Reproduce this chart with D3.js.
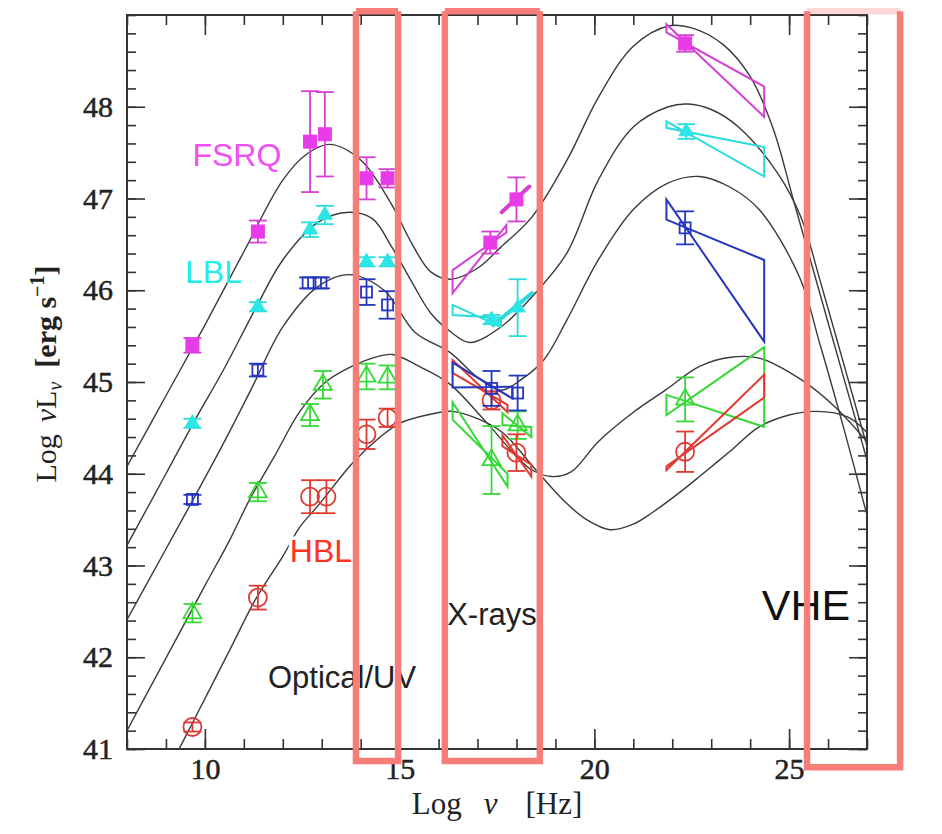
<!DOCTYPE html>
<html>
<head>
<meta charset="utf-8">
<script src="https://cdn.jsdelivr.net/npm/d3@7"></script>
<style>
  html, body { margin: 0; padding: 0; background: #fff; }
  svg { display: block; }
</style>
</head>
<body>
<div id="chart"></div>
<script>
// Model SED curves as [log nu, log nuLnu]
const curveFSRQ = [[8,44.08],[9,44.85],[10,45.62],[11,46.42],[12,47.2],[12.6,47.48],[13.2,47.59],[14,47.42],[14.8,46.93],[15.3,46.52],[15.8,46.2],[16.3,46.12],[17,46.24],[17.6,46.47],[18.4,46.8],[19.3,47.42],[20.1,48.1],[21,48.66],[21.9,48.88],[22.5,48.86],[23.3,48.68],[24,48.33],[24.6,47.75],[25.1,47.0],[25.6,46.25],[26.3,45.2],[27,44.15]];
const curveLBL = [[8,43.22],[9,44.0],[9.7,44.55],[10.5,45.15],[11.3,45.8],[12,46.33],[12.9,46.74],[13.7,46.85],[14.3,46.78],[14.8,46.47],[15.3,46.1],[15.8,45.75],[16.3,45.55],[16.8,45.43],[17.6,45.6],[18.4,45.93],[19.3,46.41],[20.1,47.2],[21,47.78],[21.9,48.0],[22.4,48.03],[23,47.97],[23.7,47.78],[24.7,47.28],[25.3,46.8],[25.8,46.1],[26.4,45.2],[27,44.3]];
const curveMid = [[8,42.41],[9,43.18],[9.7,43.72],[10.5,44.35],[11.2,44.93],[12,45.6],[12.9,46.04],[13.7,46.17],[14.6,46.0],[15.4,45.54],[16.3,45.32],[17,45.05],[17.6,44.91],[18.1,45.02],[18.7,45.24],[19.3,45.68],[20.1,46.33],[21,46.88],[21.9,47.17],[22.7,47.24],[23.5,47.12],[24.23,46.88],[25.26,46.15],[25.8,45.4],[26.4,44.5],[27,43.55]];
const curveGreen = [[8,41.2],[9,41.99],[10,42.78],[10.64,43.28],[11.15,43.72],[11.8,44.2],[12.44,44.68],[13.1,45.0],[13.72,45.16],[14.3,45.26],[14.82,45.3],[15.5,45.17],[16.28,44.98],[17.23,44.56],[18.33,44.06],[18.9,43.97],[19.4,44.02],[20.1,44.35],[21,44.67],[21.85,44.92],[22.7,45.17],[23.5,45.27],[24.23,45.26],[25.33,45.02],[26.2,44.72],[27,44.35]];
const curveHBL = [[9,40.72],[9.7,41.3],[10.64,42.08],[11.3,42.63],[12,43.1],[12.44,43.42],[12.9,43.65],[13.8,44.12],[14.5,44.4],[15,44.55],[15.7,44.64],[16.36,44.68],[17,44.6],[17.64,44.45],[18.5,44.04],[19.28,43.68],[19.8,43.5],[20.4,43.39],[21,43.45],[21.5,43.58],[22.2,43.8],[22.7,43.97],[23.5,44.25],[24.23,44.51],[25,44.64],[25.7,44.68],[26.5,44.62],[27,44.45]];

// Average data points per class: x, y and error
const fsrqX = [9.68, 11.36, 12.7, 13.08, 14.15, 14.69, 17.33, 18.0, 22.33];
const fsrqY = [45.4, 46.64, 47.62, 47.7, 47.22, 47.22, 46.52, 46.99, 48.69];
const fsrqErr = [0.08, 0.12, 0.55, 0.46, 0.23, 0.1, 0.12, 0.24, 0.09];

const lblX = [9.68, 11.36, 12.7, 13.08, 14.15, 14.69, 17.36, 18.03, 22.36];
const lblY = [44.55, 45.82, 46.66, 46.82, 46.31, 46.31, 45.68, 45.81, 47.73];
const lblErr = [0.05, 0.05, 0.08, 0.1, 0.05, 0.05, 0.05, 0.31, 0.08];

const midX = [9.68, 11.36, 12.65, 12.98, 14.15, 14.69, 17.36, 18.03, 22.33];
const midY = [43.72, 45.13, 46.08, 46.08, 45.98, 45.84, 44.93, 44.88, 46.68];
const midErr = [0.05, 0.07, 0.06, 0.06, 0.14, 0.15, 0.19, 0.19, 0.18];

const greenX = [9.68, 11.36, 12.7, 13.03, 14.15, 14.69, 17.36, 18.03, 22.33];
const greenY = [42.48, 43.8, 44.64, 44.97, 45.06, 45.05, 44.15, 44.53, 44.81];
const greenErr = [0.1, 0.1, 0.12, 0.15, 0.14, 0.13, 0.37, 0.15, 0.24];

const hblX = [9.68, 11.36, 12.7, 13.12, 14.15, 14.69, 17.36, 18.0, 22.33];
const hblY = [41.24, 42.65, 43.75, 43.75, 44.43, 44.61, 44.8, 44.23, 44.24];
const hblErr = [0.05, 0.13, 0.18, 0.18, 0.16, 0.1, 0.1, 0.2, 0.22];

// Bowties: [xLeft, xRight, yLeftTop, yLeftBottom, yRightTop, yRightBottom]
const fsrqTies = [[16.36, 17.74, 46.22, 45.97, 46.71, 46.63], [21.85, 24.36, 48.9, 48.81, 48.22, 47.89]];
const lblTies = [[16.36, 17.6, 45.84, 45.73, 45.7, 45.6], [21.85, 24.36, 47.84, 47.77, 47.56, 47.24]];
const midTies = [[16.36, 17.9, 45.21, 44.94, 44.95, 44.82], [21.85, 24.36, 46.99, 46.77, 46.33, 45.44]];
const greenTies = [[16.36, 17.77, 44.78, 44.59, 44.0, 43.86], [17.64, 18.38, 44.66, 44.53, 44.51, 44.4], [21.85, 24.36, 44.86, 44.64, 45.38, 44.51]];
const hblTies = [[16.36, 17.77, 45.24, 45.1, 44.75, 44.67], [17.64, 18.38, 44.42, 44.3, 44.1, 43.97], [21.85, 24.36, 44.08, 44.04, 45.08, 44.83]];

// Narrow X-ray spectra drawn as thick strokes: [x0, y0, x1, y1]
const fsrqSeg = [17.62, 46.85, 18.33, 47.13];
const lblSeg = [17.4, 45.62, 18.4, 45.97];

// Band boxes (log nu from / to)
const bandFrom = [13.88, 16.16, 25.46];
const bandTo = [14.96, 18.6, 27.85];
const bandBottom = [40.87, 40.87, 40.8];

const xTicks = [10, 15, 20, 25];
const yTicks = [41, 42, 43, 44, 45, 46, 47, 48];

const width = 942, height = 834;
const x = d3.scaleLinear().domain([8, 27]).range([127, 867]);
const y = d3.scaleLinear().domain([41, 49]).range([749, 15]);

const svg = d3.select('#chart').append('svg')
    .attr('width', width)
    .attr('height', height)
    .style('background', '#fff');

svg.append('clipPath').attr('id', 'plot-clip')
    .append('rect')
    .attr('x', x(8)).attr('y', y(49))
    .attr('width', x(27) - x(8)).attr('height', y(41) - y(49));

// Axes (ticks inward, on all four sides)
const serif = '"Liberation Serif", "DejaVu Serif", serif';
const sans = '"Liberation Sans", Arial, sans-serif';

function styleAxis(g) {
    g.select('.domain').remove();
    g.selectAll('line').attr('stroke', '#333').attr('stroke-width', 1.6);
    g.selectAll('text').attr('font-family', serif).attr('font-size', 30)
        .attr('fill', '#222').attr('stroke', '#222').attr('stroke-width', 0.5);
}

svg.append('g').attr('transform', `translate(0,${y(41)})`)
    .call(d3.axisBottom(x).tickValues(d3.range(8, 28, 1)).tickSize(-10).tickFormat(''))
    .call(styleAxis);
svg.append('g').attr('transform', `translate(0,${y(41)})`)
    .call(d3.axisBottom(x).tickValues(xTicks).tickSize(-20).tickPadding(9).tickFormat(d3.format('d')))
    .call(styleAxis);
svg.append('g').attr('transform', `translate(0,${y(49)})`)
    .call(d3.axisTop(x).tickValues(d3.range(8, 28, 1)).tickSize(-10).tickFormat(''))
    .call(styleAxis);
svg.append('g').attr('transform', `translate(0,${y(49)})`)
    .call(d3.axisTop(x).tickValues(xTicks).tickSize(-20).tickFormat(''))
    .call(styleAxis);

const yMinor = d3.range(0, 41).map(i => 41 + i * 0.2);
svg.append('g').attr('transform', `translate(${x(8)},0)`)
    .call(d3.axisLeft(y).tickValues(yMinor).tickSize(-9).tickFormat(''))
    .call(styleAxis);
svg.append('g').attr('transform', `translate(${x(8)},0)`)
    .call(d3.axisLeft(y).tickValues(yTicks).tickSize(-18).tickPadding(14).tickFormat(d3.format('d')))
    .call(styleAxis);
svg.append('g').attr('transform', `translate(${x(27)},0)`)
    .call(d3.axisRight(y).tickValues(yMinor).tickSize(-9).tickFormat(''))
    .call(styleAxis);
svg.append('g').attr('transform', `translate(${x(27)},0)`)
    .call(d3.axisRight(y).tickValues(yTicks).tickSize(-18).tickFormat(''))
    .call(styleAxis);

svg.append('rect')
    .attr('x', x(8)).attr('y', y(49))
    .attr('width', x(27) - x(8)).attr('height', y(41) - y(49))
    .attr('fill', 'none').attr('stroke', '#333').attr('stroke-width', 2);

// Axis titles
const xTitle = svg.append('text')
    .attr('x', (x(8) + x(27)) / 2).attr('y', 814)
    .attr('text-anchor', 'middle')
    .attr('font-family', serif).attr('font-size', 31).attr('fill', '#222');
xTitle.append('tspan').text('Log');
xTitle.append('tspan').attr('dx', 22).attr('font-style', 'italic').text('ν');
xTitle.append('tspan').attr('dx', 28).text('[Hz]');

const yTitle = svg.append('text')
    .attr('transform', `translate(56,${(y(41) + y(49)) / 2 - 8}) rotate(-90)`)
    .attr('text-anchor', 'middle')
    .attr('font-family', serif).attr('font-size', 30).attr('fill', '#222');
yTitle.append('tspan').text('Log');
yTitle.append('tspan').attr('dx', 12).attr('font-style', 'italic').text('ν');
yTitle.append('tspan').text('L');
yTitle.append('tspan').attr('dy', 6).attr('font-size', 20).attr('font-style', 'italic').text('ν');
yTitle.append('tspan').attr('dy', -6).attr('dx', 14).attr('font-weight', 'bold').text('[erg s');
yTitle.append('tspan').attr('dy', -12).attr('font-size', 20).attr('font-weight', 'bold').text('−1');
yTitle.append('tspan').attr('dy', 12).attr('font-weight', 'bold').text(']');

// Model curves
const plot = svg.append('g').attr('clip-path', 'url(#plot-clip)');
const line = d3.line()
    .x(d => x(d[0]))
    .y(d => y(d[1]))
    .curve(d3.curveCatmullRom.alpha(0.5));

[curveFSRQ, curveLBL, curveMid, curveGreen, curveHBL].forEach(c => {
    plot.append('path')
        .attr('d', line(c))
        .attr('fill', 'none')
        .attr('stroke', '#3a3a3a')
        .attr('stroke-width', 1.4);
});

// Data classes
const series = [
    { color: '#36d836', mk: '#36d836', shape: 'triangle', filled: false, xs: greenX, ys: greenY, es: greenErr, ties: greenTies },
    { color: '#e03a30', mk: '#dd3a34', shape: 'circle', filled: false, xs: hblX, ys: hblY, es: hblErr, ties: hblTies },
    { color: '#2636bf', mk: '#2636bf', shape: 'square', filled: false, xs: midX, ys: midY, es: midErr, ties: midTies },
    { color: '#2cdcdc', mk: '#2ce6e6', shape: 'triangle', filled: true, xs: lblX, ys: lblY, es: lblErr, ties: lblTies, seg: lblSeg },
    { color: '#d440d4', mk: '#e83ce8', shape: 'square', filled: true, xs: fsrqX, ys: fsrqY, es: fsrqErr, ties: fsrqTies, seg: fsrqSeg }
];

series.forEach(s => {
    const g = plot.append('g');

    // bowties
    s.ties.forEach(t => {
        const pts = [[t[0], t[2]], [t[1], t[5]], [t[1], t[4]], [t[0], t[3]]];
        g.append('path')
            .attr('d', 'M' + pts.map(p => `${x(p[0])},${y(p[1])}`).join('L') + 'Z')
            .attr('fill', 'none')
            .attr('stroke', s.color)
            .attr('stroke-width', 2)
            .attr('stroke-linejoin', 'miter');
    });
    if (s.seg) {
        g.append('line')
            .attr('x1', x(s.seg[0])).attr('y1', y(s.seg[1]))
            .attr('x2', x(s.seg[2])).attr('y2', y(s.seg[3]))
            .attr('stroke', s.color).attr('stroke-width', 4).attr('stroke-linecap', 'round');
    }

    // error bars
    s.xs.forEach((xv, i) => {
        const cx = x(xv), y0 = y(s.ys[i] - s.es[i]), y1 = y(s.ys[i] + s.es[i]);
        g.append('line').attr('x1', cx).attr('x2', cx).attr('y1', y0).attr('y2', y1)
            .attr('stroke', s.color).attr('stroke-width', 1.8);
        [y0, y1].forEach(yy => {
            g.append('line').attr('x1', cx - 9).attr('x2', cx + 9).attr('y1', yy).attr('y2', yy)
                .attr('stroke', s.color).attr('stroke-width', 1.8);
        });
    });

    // markers
    s.xs.forEach((xv, i) => {
        const cx = x(xv), cy = y(s.ys[i]);
        let m;
        if (s.shape === 'circle') {
            m = g.append('circle').attr('cx', cx).attr('cy', cy).attr('r', 9);
        } else if (s.shape === 'square') {
            const h = s.filled ? 6.5 : 5.5;
            m = g.append('rect').attr('x', cx - h).attr('y', cy - h).attr('width', 2 * h).attr('height', 2 * h);
        } else {
            m = g.append('path')
                .attr('transform', `translate(${cx},${cy})`)
                .attr('d', d3.symbol().type(d3.symbolTriangle).size(s.filled ? 95 : 140)());
        }
        m.attr('fill', s.filled ? s.mk : 'none')
            .attr('stroke', s.mk)
            .attr('stroke-width', s.filled ? 1 : 1.8);
    });
});

// Class and band labels
const labels = [
    { t: 'FSRQ', lx: 9.68, ly: 47.35, c: '#f24ef2', fs: 32 },
    { t: 'LBL', lx: 9.49, ly: 46.08, c: '#22ecec', fs: 32 },
    { t: 'HBL', lx: 12.18, ly: 43.04, c: '#ff3324', fs: 32, halo: true },
    { t: 'Optical/UV', lx: 11.62, ly: 41.66, c: '#222', fs: 31 },
    { t: 'X-rays', lx: 16.22, ly: 42.35, c: '#222', fs: 31 },
    { t: 'VHE', lx: 24.3, ly: 42.41, c: '#111', fs: 43 }
];
labels.forEach(l => {
    const tx = svg.append('text')
        .attr('x', x(l.lx)).attr('y', y(l.ly))
        .attr('font-family', sans).attr('font-size', l.fs)
        .attr('fill', l.c)
        .text(l.t);
    if (l.halo) {
        tx.attr('stroke', '#fff').attr('stroke-width', 7).attr('paint-order', 'stroke');
    }
});

// Highlight boxes for the energy bands
bandFrom.forEach((b, i) => {
    const x0 = x(b), x1 = x(bandTo[i]), yT = y(49.04), yB = y(bandBottom[i]);
    svg.append('path')
        .attr('d', `M${x0},${yT}L${x0},${yB}L${x1},${yB}L${x1},${yT}`)
        .attr('fill', 'none')
        .attr('stroke', '#f77d78')
        .attr('stroke-width', 6.5);
    svg.append('line')
        .attr('x1', x0).attr('x2', x1).attr('y1', yT).attr('y2', yT)
        .attr('stroke', '#f77d78')
        .attr('stroke-opacity', i === 2 ? 0.3 : 1)
        .attr('stroke-width', 6.5);
});
</script>
</body>
</html>
